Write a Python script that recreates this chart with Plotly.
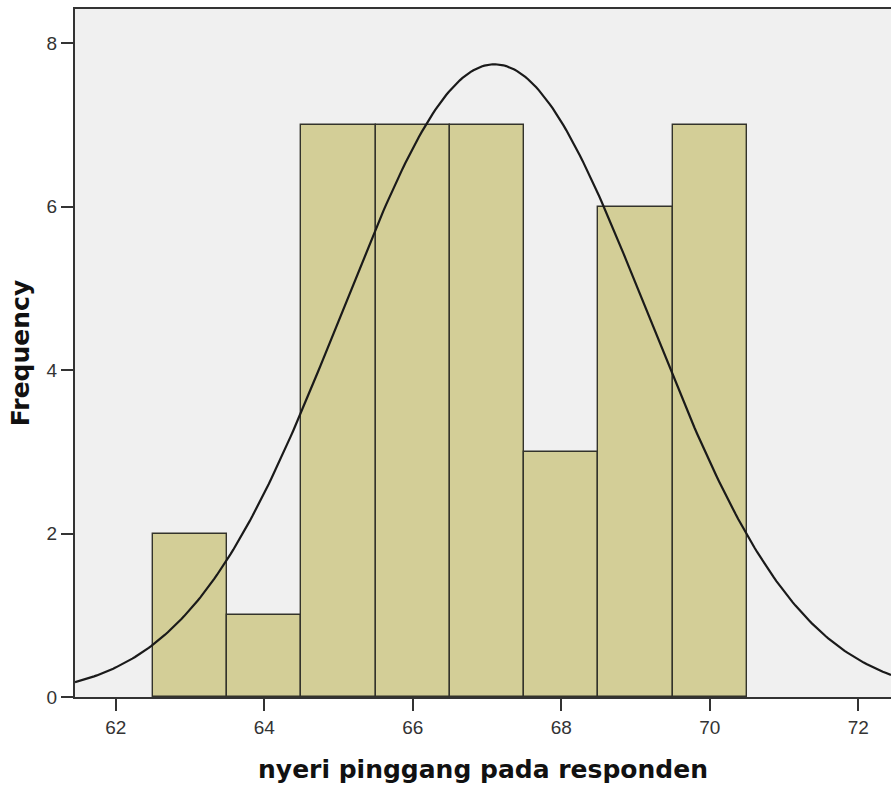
import numpy as np
import plotly.graph_objects as go

# Data
bin_centers = [63, 64, 65, 66, 67, 68, 69, 70]
counts = [2, 1, 7, 7, 7, 3, 6, 7]
x_tick_vals = [62, 64, 66, 68, 70, 72]
y_tick_vals = [0, 2, 4, 6, 8]
x_title = "nyeri pinggang pada responden"
y_title = "Frequency"

# Fitted normal curve (from the binned data, as SPSS draws it)
vals = np.repeat(bin_centers, counts)
mean = vals.mean()
sd = vals.std(ddof=1)
n = len(vals)
bw = 1.0
xs = np.linspace(61.45, 72.44, 300)
ys = n * bw / (sd * np.sqrt(2 * np.pi)) * np.exp(-0.5 * ((xs - mean) / sd) ** 2)

fig = go.Figure()
fig.add_trace(go.Bar(
    x=bin_centers, y=counts, width=1.0,
    marker=dict(color="#D3CE97", line=dict(color="#33332b", width=1.4)),
    showlegend=False, hoverinfo="skip",
))
fig.add_trace(go.Scatter(
    x=xs, y=ys, mode="lines",
    line=dict(color="#1a1a1a", width=2.2),
    showlegend=False, hoverinfo="skip",
))

fig.update_layout(
    width=891, height=793,
    margin=dict(l=75, r=0, t=9, b=96),
    paper_bgcolor="white",
    plot_bgcolor="#F0F0F0",
    bargap=0,
    font=dict(family="Liberation Sans, Arial", color="#222222"),
)
fig.update_xaxes(
    range=[61.45, 72.44],
    tickvals=x_tick_vals,
    ticks="outside", ticklen=12, tickwidth=2, tickcolor="#333333",
    tickfont=dict(size=19, family="Liberation Sans, Arial", color="#333333"),
    showline=True, linecolor="#333333", linewidth=2, mirror=True,
    showgrid=False, zeroline=False,
    title=dict(text=x_title, font=dict(size=25, family="DejaVu Sans", color="#111111", weight="bold"), standoff=24),
)
fig.update_yaxes(
    range=[0, 8.42],
    tickvals=y_tick_vals,
    ticks="outside", ticklen=12, tickwidth=2, tickcolor="#333333",
    tickfont=dict(size=19, family="Liberation Sans, Arial", color="#333333"),
    showline=True, linecolor="#333333", linewidth=2,
    showgrid=False, zeroline=False,
    title=dict(text=y_title, font=dict(size=25, family="DejaVu Sans", color="#111111", weight="bold"), standoff=10),
)

fig.write_html(
    "out.html",
    config={"displayModeBar": False},
    post_script="document.body.style.margin='0';document.body.style.overflow='hidden';",
)
